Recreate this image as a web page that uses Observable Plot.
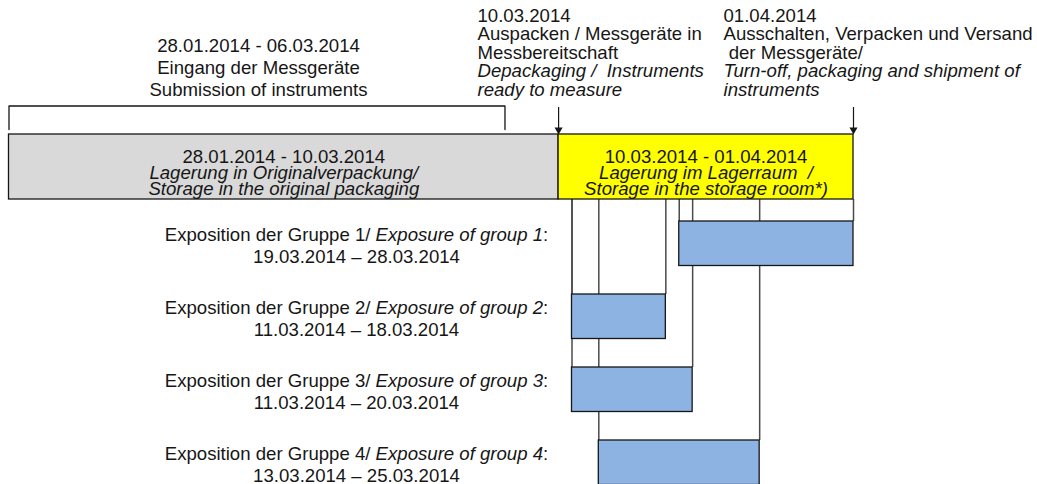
<!DOCTYPE html>
<html>
<head>
<meta charset="utf-8">
<script src="https://cdn.jsdelivr.net/npm/d3@7"></script>
<script src="https://cdn.jsdelivr.net/npm/@observablehq/plot@0.6"></script>
<style>
  html, body { margin: 0; padding: 0; background: #fff; }
  #chart svg text { white-space: pre; }
</style>
</head>
<body>
<div id="chart"></div>
<script>
// ---------------- data ----------------
const deliveryPeriod = ["2014-01-28", "2014-03-06"];
const deliveryLines = ["28.01.2014 - 06.03.2014", "Eingang der Messgeräte", "Submission of instruments"];

const phaseStarts = ["2014-01-28", "2014-03-10"];
const phaseEnds = ["2014-03-10", "2014-04-01"];
const phaseDates = ["28.01.2014 - 10.03.2014", "10.03.2014 - 01.04.2014"];
const phaseDe = ["Lagerung in Originalverpackung/", "Lagerung im Lagerraum  /"];
const phaseEn = ["Storage in the original packaging", "Storage in the storage room*)"];

const milestoneDates = ["2014-03-10", "2014-04-01"];
const milestoneLabels = ["10.03.2014", "01.04.2014"];
const milestoneDe = [["Auspacken / Messgeräte in", "Messbereitschaft"], ["Ausschalten, Verpacken und Versand", " der Messgeräte/"]];
const milestoneEn = [["Depackaging /  Instruments", "ready to measure"], ["Turn-off, packaging and shipment of", "instruments"]];

const groups = [1, 2, 3, 4];
const groupStarts = ["2014-03-19", "2014-03-11", "2014-03-11", "2014-03-13"];
const groupEnds = ["2014-04-01", "2014-03-18", "2014-03-20", "2014-03-25"]; // bar ends as drawn
const groupPeriods = ["19.03.2014 – 28.03.2014", "11.03.2014 – 18.03.2014", "11.03.2014 – 20.03.2014", "13.03.2014 – 25.03.2014"];

// ---------------- layout ----------------
const W = 1037, H = 484;
const FONT = "'Liberation Sans', Arial, Helvetica, sans-serif";
const FS = 18.6;
const INK = "#161616";
const BRACKET_TOP = 105.5, BRACKET_BOTTOM = 129;
const ARROW_TOP = 107, ARROW_TIP = 134;
const BOX_TOP = 134, BOX_BOTTOM = 199;
const G_TOP = 221, G_STEP = 73, G_H = 44.5;
const DELIVERY_CX = 258, DELIVERY_BASE = [51, 73, 95];
const MS_LEFT = [477, 723], MS_BASE = [21, 39.5, 58, 76.5, 95];
const BOX_BASE = [162, 178, 194];
const GROUP_CX = 356, GROUP_BASE = [19.5, 41];

const parse = d3.utcParse("%Y-%m-%d");

const phases = phaseStarts.map((s, i) => ({
  start: parse(s), end: parse(phaseEnds[i]),
  mid: new Date((parse(s).getTime() + parse(phaseEnds[i]).getTime()) / 2),
  dates: phaseDates[i], de: phaseDe[i], en: phaseEn[i], i
}));
const phaseFills = ["#D9D9D9", "#FFFF00"];

const bars = groups.map((g, i) => ({
  g, i, start: parse(groupStarts[i]), end: parse(groupEnds[i]),
  top: G_TOP + i * G_STEP,
  line1: `Exposition der Gruppe ${g}/ Exposure of group ${g}:`,
  line2: groupPeriods[i]
}));
const leaders = bars.flatMap(b => [{date: b.start, top: b.top}, {date: b.end, top: b.top}]);

const bracket = [
  {date: parse(deliveryPeriod[0]), y: BRACKET_BOTTOM},
  {date: parse(deliveryPeriod[0]), y: BRACKET_TOP},
  {date: parse(deliveryPeriod[1]), y: BRACKET_TOP},
  {date: parse(deliveryPeriod[1]), y: BRACKET_BOTTOM}
];
const milestones = milestoneDates.map((d, i) => ({date: parse(d), i}));

const textOpts = {fontSize: FS, fill: INK, lineAnchor: "bottom", fontFamily: FONT};

const marks = [
  // delivery bracket + its labels
  Plot.line(bracket, {x: "date", y: "y", stroke: INK, strokeWidth: 1.3}),
  Plot.text(deliveryLines, {...textOpts, text: d => d, frameAnchor: "left", dx: DELIVERY_CX,
    y: (d, i) => DELIVERY_BASE[i], textAnchor: "middle"}),
  // milestone labels
  ...milestones.flatMap((m, k) => {
    const up = [milestoneLabels[k], ...milestoneDe[k]];
    const it = milestoneEn[k];
    return [
      Plot.text(up, {...textOpts, text: d => d, frameAnchor: "left", dx: MS_LEFT[k],
        y: (d, i) => MS_BASE[i], textAnchor: "start"}),
      Plot.text(it, {...textOpts, text: d => d, frameAnchor: "left", dx: MS_LEFT[k],
        y: (d, i) => MS_BASE[3 + i], textAnchor: "start", fontStyle: "italic"})
    ];
  }),
  // milestone arrows
  Plot.ruleX(milestones, {x: "date", y1: ARROW_TOP, y2: ARROW_TIP - 5, stroke: INK, strokeWidth: 1.2}),
  Plot.dot(milestones, {x: "date", y: ARROW_TIP - 4.6, symbol: "triangle", r: 3, rotate: 180, fill: INK, stroke: "none"}),
  // leader lines from storage bar to exposure bars
  Plot.ruleX(leaders, {x: "date", y1: BOX_BOTTOM, y2: "top", stroke: "#4a4a4a", strokeWidth: 1.5}),
  // storage phases
  Plot.rect(phases, {x1: "start", x2: "end", y1: BOX_TOP, y2: BOX_BOTTOM,
    fill: d => phaseFills[d.i], stroke: INK, strokeWidth: 1.3}),
  Plot.text(phases, {...textOpts, x: "mid", y: BOX_BASE[0], text: "dates", textAnchor: "middle"}),
  Plot.text(phases, {...textOpts, x: "mid", y: BOX_BASE[1], text: "de", textAnchor: "middle", fontStyle: "italic"}),
  Plot.text(phases, {...textOpts, x: "mid", y: BOX_BASE[2], text: "en", textAnchor: "middle", fontStyle: "italic"}),
  // exposure bars
  Plot.rect(bars, {x1: "start", x2: "end", y1: "top", y2: d => d.top + G_H,
    fill: "#8DB3E2", stroke: INK, strokeWidth: 1.3}),
  Plot.text(bars, {...textOpts, frameAnchor: "left", dx: GROUP_CX, y: d => d.top + GROUP_BASE[0],
    text: "line1", textAnchor: "middle"}),
  Plot.text(bars, {...textOpts, frameAnchor: "left", dx: GROUP_CX, y: d => d.top + GROUP_BASE[1],
    text: "line2", textAnchor: "middle"})
];

const chart = Plot.plot({
  width: W, height: H,
  margin: 0,
  style: {fontFamily: FONT, fontSize: `${FS}px`, background: "#fff", overflow: "visible"},
  x: {type: "utc", domain: [parse("2014-01-28"), parse("2014-04-01")], range: [8.5, 853], axis: null},
  y: {type: "linear", domain: [0, H], range: [0, H], axis: null},
  marks
});
document.getElementById("chart").appendChild(chart);

// mixed upright/italic runs in the group labels
d3.select(chart).selectAll("text").each(function () {
  const t = this.textContent;
  const m = t.match(/^(Exposition der Gruppe \d\/ )(Exposure of group \d)(:)$/);
  if (!m) return;
  const sel = d3.select(this);
  sel.text(null);
  sel.append("tspan").text(m[1]);
  sel.append("tspan").attr("font-style", "italic").text(m[2]);
  sel.append("tspan").text(m[3]);
});
</script>
</body>
</html>
